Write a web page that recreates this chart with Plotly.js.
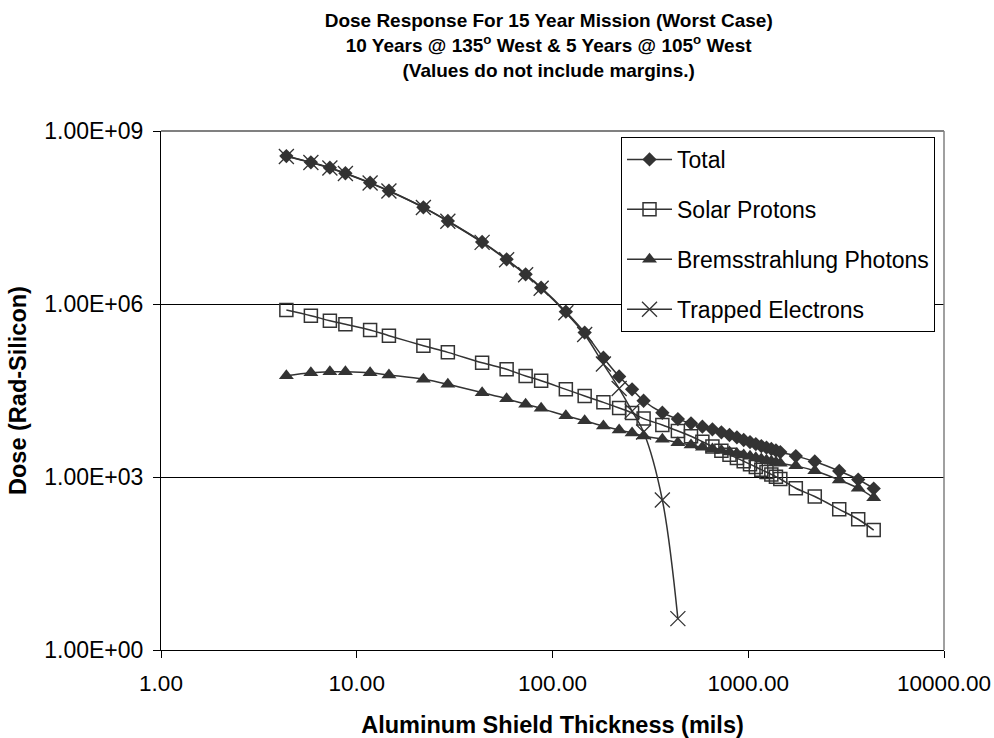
<!DOCTYPE html>
<html><head><meta charset="utf-8">
<script src="https://cdn.plot.ly/plotly-3.0.1.min.js"></script>
<style>html,body{margin:0;padding:0;background:#fff}</style>
</head><body><div id="chart" style="width:994px;height:738px"></div>
<script>
// Aluminum shield thickness (mils)
const thicknessMils = [4.37, 5.83, 7.29, 8.75, 11.7, 14.6, 21.9, 29.2, 43.7, 58.3, 72.9, 87.5,
  117, 146, 182, 219, 255, 292, 364, 437, 510, 583, 656, 729, 802, 875, 948, 1021, 1093,
  1166, 1239, 1312, 1385, 1458, 1750, 2187, 2916, 3645, 4374];
// Dose (Rad-Silicon)
const totalDose = [3.68e8, 2.86e8, 2.31e8, 1.85e8, 1.27e8, 9.21e7, 4.75e7, 2.75e7, 1.19e7, 5.96e6, 3.27e6, 1.92e6,
  7.35e5, 3.20e5, 1.17e5, 5.53e4, 3.31e4, 2.10e4, 1.30e4, 1.01e4, 8530, 7450, 6710, 5960, 5350, 4880, 4380, 4040, 3730,
  3440, 3240, 3060, 2880, 2710, 2310, 1860, 1270, 904, 631];
const solarProtons = [7.87e5, 6.27e5, 5.13e5, 4.44e5, 3.54e5, 2.82e5, 1.89e5, 1.45e5, 9.59e4, 7.37e4, 5.64e4, 4.67e4,
  3.31e4, 2.54e4, 1.97e4, 1.57e4, 1.29e4, 1.03e4, 7970, 6270, 5080, 4090, 3380, 2850, 2440, 2130, 1870, 1670, 1490,
  1340, 1220, 1110, 1010, 923, 637, 459, 275, 185, 120];
const bremsPhotons = [5.71e4, 6.43e4, 6.69e4, 6.69e4, 6.43e4, 5.87e4, 4.94e4, 4.05e4, 2.90e4, 2.27e4, 1.83e4, 1.55e4,
  1.15e4, 9430, 7660, 6530, 5790, 5140, 4510, 3940, 3590, 3270, 3060, 2880, 2710, 2550, 2410, 2280, 2160,
  2050, 1950, 1870, 1800, 1730, 1560, 1280, 887, 640, 436];
const trappedElectrons = [3.61e8, 2.84e8, 2.28e8, 1.83e8, 1.25e8, 9.10e7, 4.71e7, 2.72e7, 1.17e7, 5.84e6, 3.21e6, 1.87e6,
  7.06e5, 2.96e5, 9.10e4, 3.42e4, 1.39e4, 6030, 399, 3.5];

const seriesNames = ['Total', 'Solar Protons', 'Bremsstrahlung Photons', 'Trapped Electrons'];
const xTickVals = [1, 10, 100, 1000, 10000];
const xTickText = ['1.00', '10.00', '100.00', '1000.00', '10000.00'];
const yTickVals = [1, 1e3, 1e6, 1e9];
const yTickText = ['1.00E+00', '1.00E+03', '1.00E+06', '1.00E+09'];

const FONT = 'Liberation Sans, Arial, sans-serif';
const INK = '#333333';

const seriesY = [totalDose, solarProtons, bremsPhotons, trappedElectrons];
const markers = [
  {symbol: 'diamond', size: 11, color: INK, line: {width: 0}},
  {symbol: 'square-open', size: 13, color: INK, line: {width: 1.5, color: INK}},
  {symbol: 'triangle-up', size: 13, color: INK, line: {width: 0}},
  {symbol: 'x-thin-open', size: 15, color: INK, line: {width: 1.3, color: INK}}
];

const traces = seriesY.map((ys, i) => ({
  type: 'scatter',
  mode: 'lines+markers',
  name: seriesNames[i],
  legendgroup: 'g' + i,
  x: thicknessMils.slice(0, ys.length),
  y: ys,
  line: {color: INK, width: 1.5, shape: 'spline', smoothing: 1},
  marker: markers[i]
}));

const layout = {
  width: 994, height: 738,
  margin: {l: 161, r: 50, t: 131, b: 88},
  paper_bgcolor: '#ffffff', plot_bgcolor: '#ffffff',
  font: {family: FONT, color: '#000000', size: 22},
  title: {
    text: 'Dose Response For 15 Year Mission (Worst Case)<br>10 Years @ 135<sup>o</sup> West & 5 Years @ 105<sup>o</sup> West<br>(Values do not include margins.)',
    font: {family: FONT, size: 19, weight: 'bold', color: '#000000'},
    x: 0.552, xanchor: 'center', xref: 'container',
    y: 0.963, yanchor: 'top', yref: 'container'
  },
  xaxis: {
    type: 'log', range: [0, 4],
    tickmode: 'array', tickvals: xTickVals, ticktext: xTickText,
    ticks: 'outside', ticklen: 7, tickcolor: '#000', tickwidth: 1,
    showline: true, linecolor: '#000', linewidth: 1, mirror: false,
    showgrid: false, zeroline: false,
    tickfont: {size: 22.5, family: FONT},
    ticklabelstandoff: 6,
    title: {text: 'Aluminum Shield Thickness (mils)', font: {size: 23.5, weight: 'bold', family: FONT}, standoff: 22},
    automargin: false
  },
  yaxis: {
    type: 'log', range: [0, 9],
    tickmode: 'array', tickvals: yTickVals, ticktext: yTickText,
    ticks: 'outside', ticklen: 7, tickcolor: '#000', tickwidth: 1,
    showline: true, linecolor: '#000', linewidth: 1, mirror: false,
    showgrid: true, gridcolor: '#000', gridwidth: 1, zeroline: false,
    tickfont: {size: 23, family: FONT},
    ticklabelstandoff: 5,
    title: {text: 'Dose (Rad-Silicon)', font: {size: 23.5, weight: 'bold', family: FONT}, standoff: 11},
    automargin: false
  },
  legend: {
    x: 0.5875, y: 0.9884, xanchor: 'left', yanchor: 'top',
    bgcolor: '#ffffff', bordercolor: '#000000', borderwidth: 1,
    font: {size: 23, family: FONT, color: '#000'},
    tracegroupgap: 17, itemwidth: 45, entrywidth: 266
  },
  shapes: [
    {type: 'line', xref: 'paper', yref: 'paper', x0: 0, x1: 1, y0: 1, y1: 1, line: {color: '#808080', width: 2}, layer: 'above'},
    {type: 'line', xref: 'paper', yref: 'paper', x0: 1, x1: 1, y0: 0, y1: 1, line: {color: '#808080', width: 1.5}, layer: 'above'}
  ],
  showlegend: true
};

Plotly.newPlot('chart', traces, layout, {displayModeBar: false, responsive: false});
</script>
</body></html>
